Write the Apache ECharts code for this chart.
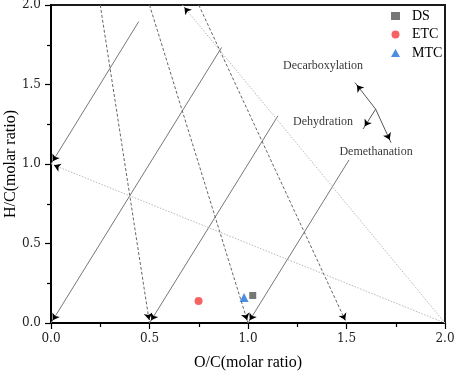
<!DOCTYPE html>
<html><head><meta charset="utf-8">
<script src="https://cdn.jsdelivr.net/npm/echarts@6/dist/echarts.min.js"></script>
<style>html,body{margin:0;padding:0;background:#fff}#c{width:457px;height:373px}</style>
</head><body><div id="c"></div>
<script>
// ---- data ----
const xTickValues = [0, 0.5, 1.0, 1.5, 2.0];
const yTickValues = [0, 0.5, 1.0, 1.5, 2.0];
const seriesNames = ['DS', 'ETC', 'MTC'];
const dsPoints = [[1.024, 0.173]];
const etcPoints = [[0.749, 0.139]];
const mtcPoints = [[0.980, 0.160]];
// pathway lines: [start, end (arrow)]
const dehydrationLines = [
  [[0.445, 1.895], [0, 1.0]],
  [[0.866, 1.733], [0, 0]],
  [[1.152, 1.303], [0.5, 0]],
  [[1.513, 1.026], [1.0, 0]]
];
const demethanationLines = [
  [[0.25, 2.0], [0.5, 0]],
  [[0.5, 2.0], [1.0, 0]],
  [[0.75, 2.0], [1.5, 0]]
];
const decarboxylationLines = [
  [[2.0, 0], [0, 1.0]],
  [[2.0, 0], [0.667, 2.0]]
];
const keyArrows = [
  [[1.648, 1.345], [1.543, 1.512]],
  [[1.648, 1.345], [1.584, 1.220]],
  [[1.648, 1.345], [1.726, 1.134]]
];
const annotationTexts = ['Decarboxylation', 'Dehydration', 'Demethanation'];
const annotationPositions = [[1.381, 1.617], [1.381, 1.267], [1.650, 1.074]];

// ---- build ----
const serif = 'Liberation Serif';
const ARROW = 6.5;

function lineSeries(lines, color, type, width) {
  return {
    type: 'lines', coordinateSystem: 'cartesian2d', silent: true, z: 2,
    symbol: ['none', 'none'],
    lineStyle: { color: color, width: width, type: type, opacity: 1, curveness: 0 },
    data: lines.map(l => ({ coords: l }))
  };
}

function axisCommon(ticks) {
  return {
    type: 'value', min: 0, max: 2, interval: 0.5,
    nameLocation: 'middle', nameMoveOverlap: false,
    nameTextStyle: { fontFamily: serif, fontSize: 16, color: '#000' },
    axisLine: { show: true, lineStyle: { color: '#000', width: 2 } },
    axisTick: { show: true, inside: false, length: 6, lineStyle: { color: '#000', width: 1.2 } },
    minorTick: { show: true, splitNumber: 2, length: 4, lineStyle: { color: '#000', width: 1.2 } },
    splitLine: { show: false },
    axisLabel: { fontFamily: 'DejaVu Serif', fontSize: 12, color: '#222', margin: 10,
      formatter: v => ticks.indexOf(v) >= 0 ? v.toFixed(1) : '' }
  };
}

const chart = echarts.init(document.getElementById('c'), null, { renderer: 'canvas' });
const baseSeries = [
  lineSeries(dehydrationLines, '#777', 'solid', 1),
  lineSeries(demethanationLines, '#666', [3, 2], 1),
  lineSeries(decarboxylationLines, '#b8b8b8', [1.5, 1.5], 1),
  lineSeries(keyArrows, '#555', 'solid', 1),
  {
    type: 'scatter', silent: true, z: 4, symbolSize: 0,
    data: annotationPositions.map((p, i) => ({ value: p, name: annotationTexts[i] })),
    label: { show: true, position: 'inside', formatter: p => p.name,
      fontFamily: serif, fontSize: 12, color: '#000' }
  },
  { name: 'DS', type: 'scatter', z: 5, symbol: 'rect', symbolSize: 7,
    itemStyle: { color: '#555' }, data: dsPoints },
  { name: 'ETC', type: 'scatter', z: 5, symbol: 'circle', symbolSize: 8,
    itemStyle: { color: '#f53c3c' }, data: etcPoints },
  { name: 'MTC', type: 'scatter', z: 5, symbol: 'triangle', symbolSize: 9,
    itemStyle: { color: '#1f6fdc' }, data: mtcPoints }
];
chart.setOption({
  animation: false,
  backgroundColor: '#fff',
  grid: { left: 51, right: 12, top: 5, bottom: 50, containLabel: false, outerBoundsMode: 'none',
    show: true, borderColor: '#1a1a1a', borderWidth: 2 },
  legend: {
    data: seriesNames, orient: 'vertical', left: 386, top: 4,
    itemWidth: 9, itemHeight: 8, itemGap: 4.5,
    textStyle: { fontFamily: serif, fontSize: 14, color: '#000', lineHeight: 14, padding: [0, 0, 0, 7] },
    selectedMode: false
  },
  xAxis: Object.assign(axisCommon(xTickValues), { name: 'O/C(molar ratio)', nameGap: 32 }),
  yAxis: Object.assign(axisCommon(yTickValues), { name: 'H/C(molar ratio)', nameGap: 32 }),
  series: baseSeries
});

// arrowheads: short black segments placed so the arrow tip touches the end point
const allArrowSegs = [].concat(dehydrationLines, demethanationLines, decarboxylationLines, keyArrows);
const finder = { xAxisIndex: 0, yAxisIndex: 0 };
const arrowData = allArrowSegs.map(seg => {
  const s = chart.convertToPixel(finder, seg[0]);
  const e = chart.convertToPixel(finder, seg[1]);
  const len = Math.hypot(s[0] - e[0], s[1] - e[1]);
  const ux = (s[0] - e[0]) / len, uy = (s[1] - e[1]) / len;
  const tipBack = [e[0] + ux * ARROW / 2, e[1] + uy * ARROW / 2];
  const tail = [e[0] + ux * (ARROW / 2 + 1), e[1] + uy * (ARROW / 2 + 1)];
  return { coords: [chart.convertFromPixel(finder, tail), chart.convertFromPixel(finder, tipBack)] };
});
chart.setOption({ series: baseSeries.concat([{
  type: 'lines', coordinateSystem: 'cartesian2d', silent: true, z: 3,
  symbol: ['none', 'arrow'], symbolSize: ARROW,
  lineStyle: { color: '#000', width: 1, opacity: 1 },
  data: arrowData
}]) });
</script></body></html>
